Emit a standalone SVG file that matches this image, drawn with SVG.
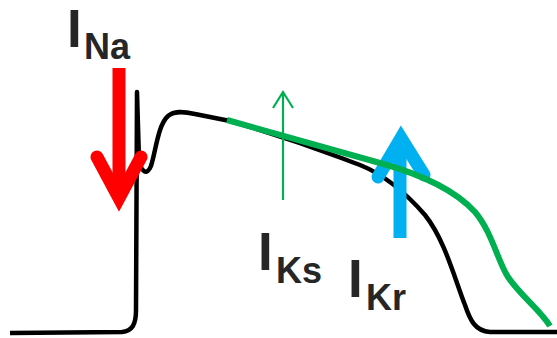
<svg xmlns="http://www.w3.org/2000/svg" width="557" height="338" viewBox="0 0 557 338">
<style>
.lbl{font-family:"Liberation Sans",Arial,sans-serif;font-weight:bold;fill:#262626}
.big{font-size:53px}
.sub{font-size:36px}
.shaft{fill:none;stroke-width:13;stroke-linecap:butt}
.head{fill:none;stroke-width:13;stroke-linecap:round;stroke-linejoin:miter}
</style>
<rect width="557" height="338" fill="#ffffff"/>
<g id="connectors">
<path id="ap-trace" d="M10 333 L122 332 C132 331 136 325 136 310 L137 92 L139 160 C141 172 147 176 151 166 C156 150 158 125 168 116 C174 111 182 111 195 114 L230 121 C300 141 330 154 360 165 C385 175 405 192 425 215 C445 240 455 280 465 305 C470 320 475 331 490 332 L557 332" fill="none" stroke="#000000" stroke-width="4.5" stroke-linejoin="round"/>
<g id="red-arrow" stroke="#ff0000"><path class="shaft" d="M119 68 V196"/><path class="head" d="M97 157 L119 198 L141 157"/></g>
<g id="blue-arrow" stroke="#00b0f0"><path class="shaft" d="M400 238 V142"/><path class="head" d="M378 177 L401 138 L424 175"/></g>
<path id="green-curve" d="M227 120 L380 163 C420 174 455 190 475 212 C492 232 498 262 508 277 C520 295 540 310 550 326" fill="none" stroke="#00b050" stroke-width="6"/>
<path id="green-arrow" d="M283 200 V92 M273 108 L283 92 L293 108" fill="none" stroke="#00b050" stroke-width="2.2"/>
</g>
<g id="label-na"><text class="lbl big" x="67" y="47">I</text><text class="lbl sub" x="84" y="59">Na</text></g>
<g id="label-ks"><text class="lbl big" x="258" y="270">I</text><text class="lbl sub" x="276" y="283">Ks</text></g>
<g id="label-kr"><text class="lbl big" x="348" y="297">I</text><text class="lbl sub" x="366" y="310">Kr</text></g>
</svg>
